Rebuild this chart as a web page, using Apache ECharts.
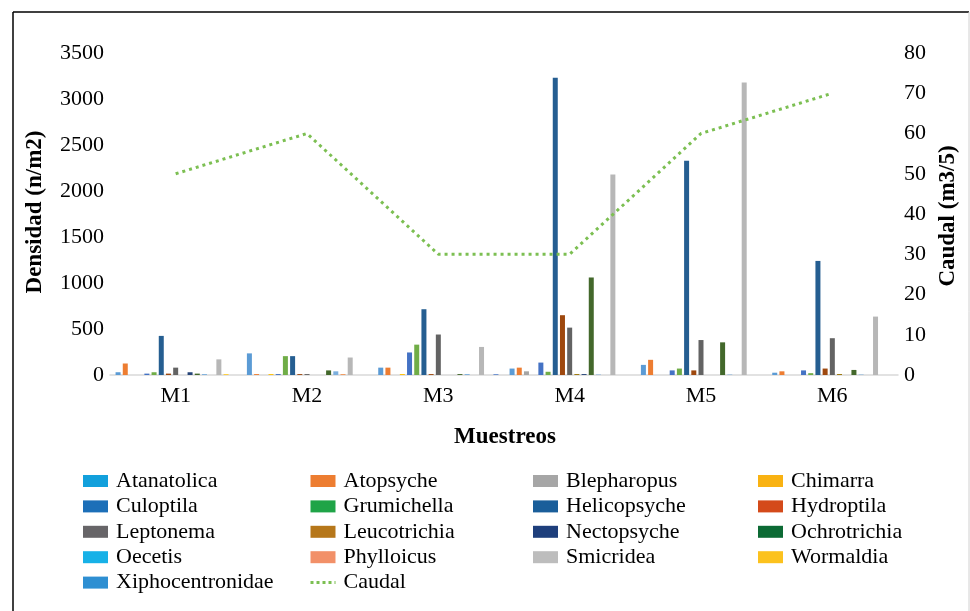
<!DOCTYPE html>
<html>
<head>
<meta charset="utf-8">
<script src="https://cdn.jsdelivr.net/npm/echarts@6/dist/echarts.min.js"></script>
<style>
html,body{margin:0;padding:0;background:#fff;}
#chart{width:970px;height:611px;}
</style>
</head>
<body>
<div id="chart"></div>
<script>
const categories = ['M1', 'M2', 'M3', 'M4', 'M5', 'M6'];
const taxa = ['Atanatolica', 'Atopsyche', 'Blepharopus', 'Chimarra', 'Culoptila', 'Grumichella',
  'Helicopsyche', 'Hydroptila', 'Leptonema', 'Leucotrichia', 'Nectopsyche', 'Ochrotrichia',
  'Oecetis', 'Phylloicus', 'Smicridea', 'Wormaldia', 'Xiphocentronidae'];

const atanatolica = [30, 235, 80, 70, 110, 25];
const atopsyche = [125, 10, 80, 80, 165, 40];
const blepharopus = [0, 0, 0, 40, 0, 0];
const chimarra = [0, 10, 10, 0, 0, 0];
const culoptila = [15, 10, 245, 135, 50, 50];
const grumichella = [30, 205, 330, 35, 70, 20];
const helicopsyche = [425, 205, 715, 3230, 2330, 1240];
const hydroptila = [15, 10, 10, 650, 50, 70];
const leptonema = [80, 10, 440, 515, 380, 400];
const leucotrichia = [0, 0, 0, 10, 0, 10];
const nectopsyche = [30, 0, 0, 10, 0, 0];
const ochrotrichia = [15, 50, 10, 1060, 355, 55];
const oecetis = [10, 40, 10, 5, 5, 5];
const phylloicus = [0, 10, 0, 0, 0, 0];
const smicridea = [170, 190, 305, 2180, 3180, 635];
const wormaldia = [10, 0, 0, 0, 0, 0];
const xiphocentronidae = [0, 0, 10, 0, 0, 0];
const caudal = [50, 60, 30, 30, 60, 70];

const leftTicks = { min: 0, max: 3500, interval: 500 };
const rightTicks = { min: 0, max: 80, interval: 10 };

const values = [atanatolica, atopsyche, blepharopus, chimarra, culoptila, grumichella,
  helicopsyche, hydroptila, leptonema, leucotrichia, nectopsyche, ochrotrichia,
  oecetis, phylloicus, smicridea, wormaldia, xiphocentronidae];

const barColors = ['#5B9BD5', '#ED7D31', '#A5A5A5', '#FFC000', '#4472C4', '#70AD47',
  '#255E91', '#9E480E', '#636363', '#997300', '#264478', '#43682B',
  '#7CAFDD', '#F1975A', '#B7B7B7', '#FFCD33', '#698ED0'];
const legendColors = ['#12A0DC', '#ED7D31', '#A6A6A6', '#F9B212', '#1C6FB8', '#1FA447',
  '#1A5E9A', '#D44A1A', '#676568', '#B6771A', '#1E3F7C', '#0C6A34',
  '#17B1E7', '#F29068', '#BDBDBD', '#FCC21E', '#2E8FD2'];

const FONT = '"Liberation Serif", "Times New Roman", serif';
const lineColor = '#7cbf52';

const series = taxa.map((name, i) => ({
  name: name,
  type: 'bar',
  data: values[i],
  barWidth: 5,
  barGap: '44%',
  itemStyle: { color: barColors[i] }
}));
series.push({
  name: 'Caudal',
  type: 'line',
  yAxisIndex: 1,
  data: caudal,
  symbol: 'none',
  lineStyle: { color: lineColor, width: 3, type: [3, 4] },
  itemStyle: { color: lineColor }
});

function legendItem(name) {
  const i = taxa.indexOf(name);
  if (i < 0) {
    return {
      name: name,
      itemStyle: { color: 'rgba(0,0,0,0)', borderColor: 'rgba(0,0,0,0)', borderWidth: 0 },
      lineStyle: { color: lineColor, width: 3, type: [3, 3] }
    };
  }
  return { name: name, icon: 'rect', itemStyle: { color: legendColors[i] } };
}

const columns = [
  ['Atanatolica', 'Culoptila', 'Leptonema', 'Oecetis', 'Xiphocentronidae'],
  ['Atopsyche', 'Grumichella', 'Leucotrichia', 'Phylloicus', 'Caudal'],
  ['Blepharopus', 'Helicopsyche', 'Nectopsyche', 'Smicridea'],
  ['Chimarra', 'Hydroptila', 'Ochrotrichia', 'Wormaldia']
];
const colLeft = [83, 309, 533, 758];

const legends = columns.map((col, c) => ({
  id: 'legend' + c,
  orient: 'vertical',
  left: colLeft[c],
  top: 470,
  padding: 0,
  itemWidth: 25,
  itemHeight: 12,
  itemGap: 3.4,
  selectedMode: false,
  textStyle: { fontFamily: FONT, fontSize: 22, color: '#000', lineHeight: 22, padding: [0, 0, 0, 3] },
  data: col.map(legendItem)
}));

const axisNum = v => String(v);

const option = {
  animation: false,
  backgroundColor: '#fff',
  textStyle: { fontFamily: FONT },
  grid: { left: 110, right: 72, top: 53, bottom: 236, containLabel: false },
  legend: legends,
  xAxis: {
    type: 'category',
    data: categories,
    axisLine: { lineStyle: { color: '#d9d9d9', width: 1.5 } },
    axisTick: { show: false },
    axisLabel: { fontFamily: FONT, fontSize: 22, color: '#000', margin: 10 }
  },
  yAxis: [{
    type: 'value',
    min: leftTicks.min, max: leftTicks.max, interval: leftTicks.interval,
    axisLine: { show: false }, axisTick: { show: false }, splitLine: { show: false },
    axisLabel: { fontFamily: FONT, fontSize: 22, color: '#000', margin: 6, formatter: axisNum }
  }, {
    type: 'value',
    min: rightTicks.min, max: rightTicks.max, interval: rightTicks.interval,
    axisLine: { show: false }, axisTick: { show: false }, splitLine: { show: false },
    axisLabel: { fontFamily: FONT, fontSize: 22, color: '#000', margin: 6, formatter: axisNum }
  }],
  series: series,
  graphic: [
    { type: 'line', shape: { x1: 13, y1: 12, x2: 969, y2: 12 }, style: { stroke: '#000', lineWidth: 1.5 } },
    { type: 'line', shape: { x1: 13, y1: 12, x2: 13, y2: 611 }, style: { stroke: '#000', lineWidth: 1.5 } },
    { type: 'line', shape: { x1: 969, y1: 12, x2: 969, y2: 611 }, style: { stroke: '#d0d0d0', lineWidth: 1 } },
    { type: 'text', x: 35, y: 212, rotation: Math.PI / 2,
      style: { text: 'Densidad (n/m2)', font: 'bold 23px ' + FONT, fill: '#000', textAlign: 'center', textVerticalAlign: 'middle' } },
    { type: 'text', x: 948, y: 216, rotation: Math.PI / 2,
      style: { text: 'Caudal (m3/5)', font: 'bold 23px ' + FONT, fill: '#000', textAlign: 'center', textVerticalAlign: 'middle' } },
    { type: 'text', x: 505, y: 437,
      style: { text: 'Muestreos', font: 'bold 23px ' + FONT, fill: '#000', textAlign: 'center', textVerticalAlign: 'middle' } }
  ]
};

const chart = echarts.init(document.getElementById('chart'), null, { renderer: 'canvas' });
chart.setOption(option);
</script>
</body>
</html>
